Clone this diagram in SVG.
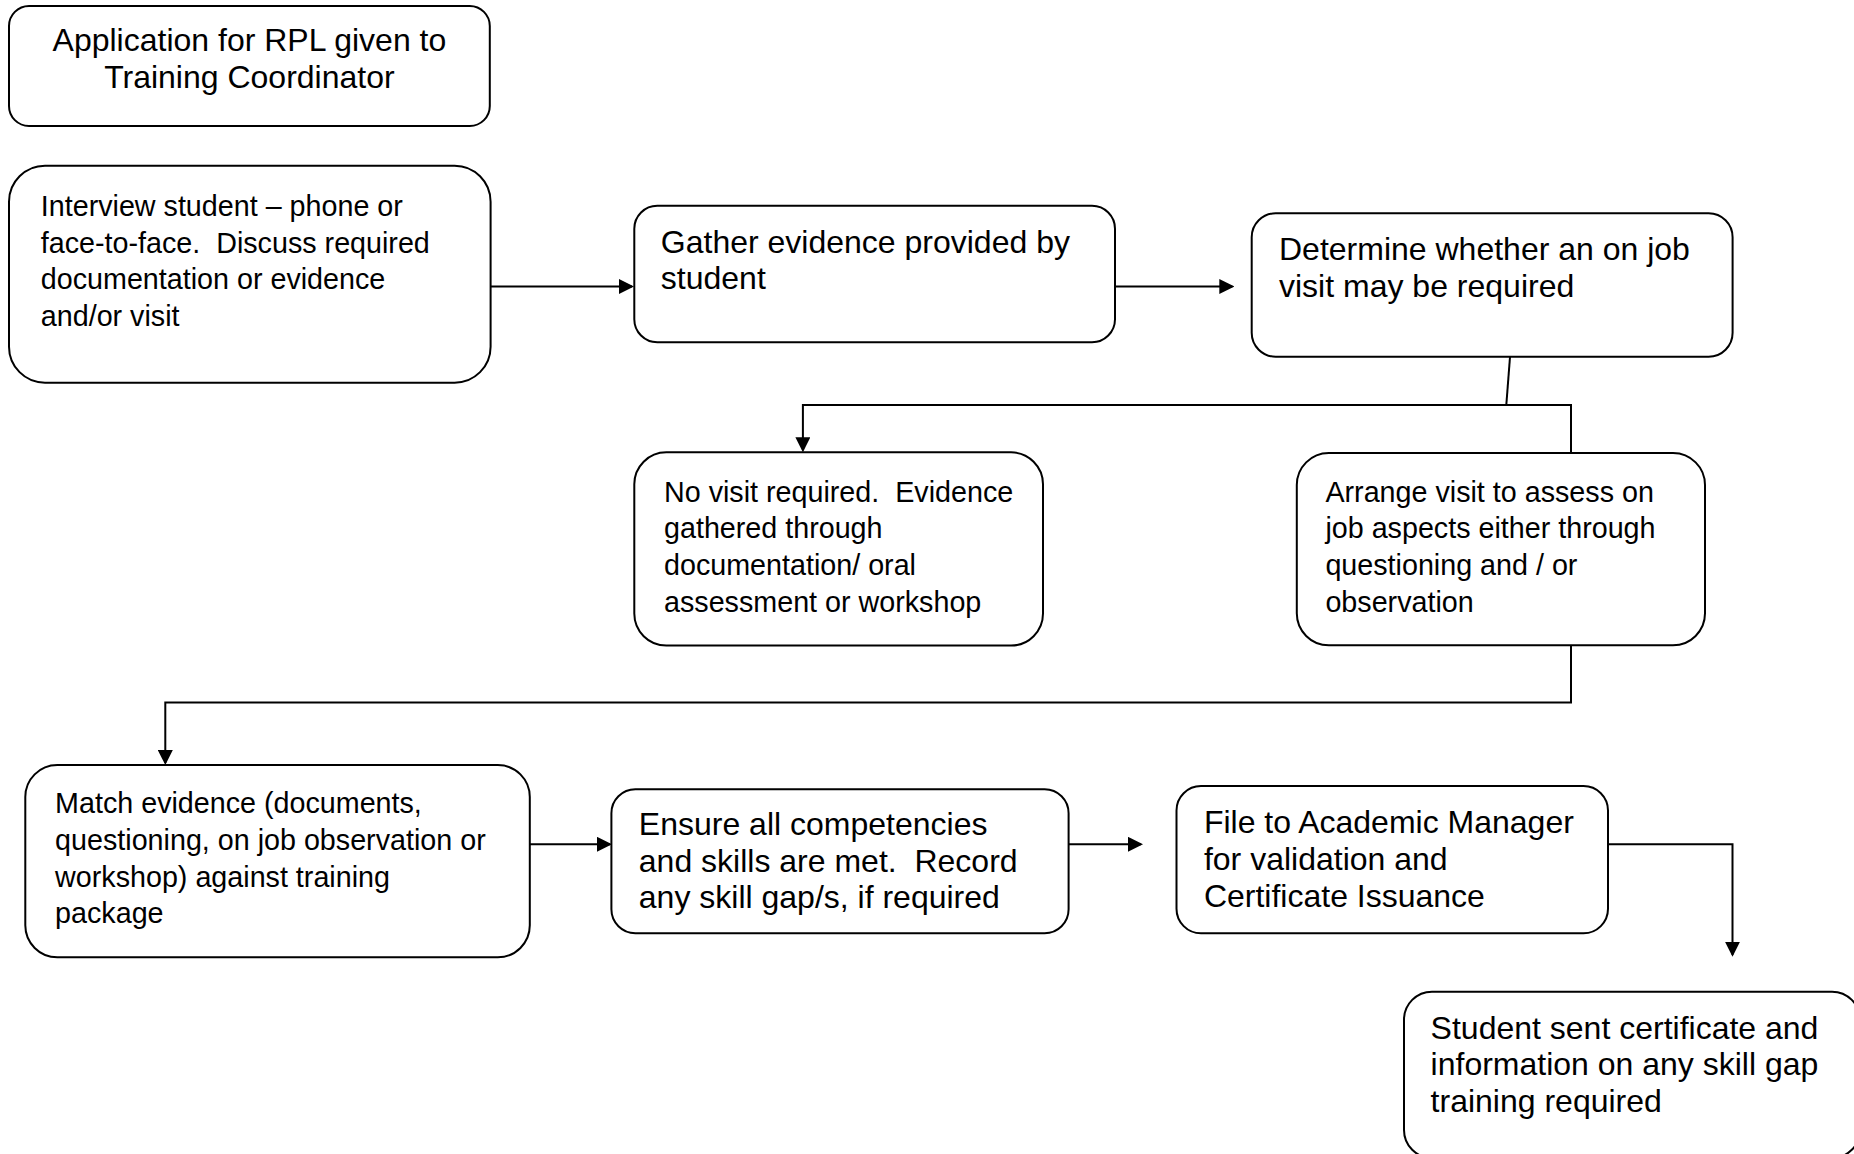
<svg xmlns="http://www.w3.org/2000/svg" width="1854" height="1154" viewBox="0 0 1854 1154" xml:space="preserve">
<style>
.box{fill:#fff;stroke:#000;stroke-width:2}
.t{font-family:"Liberation Sans",Arial,sans-serif;fill:#000;white-space:pre}
.w{font-size:32px}
.n{font-size:28.7px}
.c{fill:none;stroke:#000;stroke-width:2}
</style>
<defs>
<marker id="arr" markerUnits="userSpaceOnUse" markerWidth="15" markerHeight="15" viewBox="0 0 15 15" refX="13" refY="7.5" orient="auto">
<path d="M0,0 L15,7.5 L0,15 Z" fill="#000"/>
</marker>
</defs>
<rect width="1854" height="1154" fill="#fff"/>
<g id="connectors">
<path class="c" d="M490.6,286.5 H632" marker-end="url(#arr)"/>
<path class="c" d="M1115,286.5 H1232.3" marker-end="url(#arr)"/>
<path class="c" d="M1510,357 L1506.3,405"/>
<path class="c" d="M1571,453 V405 H802.9 V450.3" marker-end="url(#arr)"/>
<path class="c" d="M1571,645 V702.5 H165.3 V763" marker-end="url(#arr)"/>
<path class="c" d="M529.8,844.3 H610" marker-end="url(#arr)"/>
<path class="c" d="M1068.6,844.3 H1141" marker-end="url(#arr)"/>
<path class="c" d="M1608,844.3 H1732.5 V954.7" marker-end="url(#arr)"/>
</g>
<g id="n-application">
<rect class="box" x="9" y="6" width="480.8" height="120" rx="20" ry="20"/>
<text class="t w" x="249.4" y="50.7" text-anchor="middle">Application for RPL given to</text>
<text class="t w" x="249.4" y="87.7" text-anchor="middle">Training Coordinator</text>
</g>
<g id="n-interview">
<rect class="box" x="9" y="165.7" width="481.6" height="217" rx="36" ry="36"/>
<text class="t n" x="40.8" y="216">Interview student – phone or</text>
<text class="t n" x="40.8" y="252.5">face-to-face.  Discuss required</text>
<text class="t n" x="40.8" y="289">documentation or evidence</text>
<text class="t n" x="40.8" y="325.5">and/or visit</text>
</g>
<g id="n-gather">
<rect class="box" x="634.3" y="205.7" width="480.7" height="136.6" rx="23" ry="23"/>
<text class="t w" x="660.8" y="252.5">Gather evidence provided by</text>
<text class="t w" x="660.8" y="289">student</text>
</g>
<g id="n-determine">
<rect class="box" x="1251.7" y="213.3" width="480.9" height="143.4" rx="24" ry="24"/>
<text class="t w" x="1279" y="260">Determine whether an on job</text>
<text class="t w" x="1279" y="296.5">visit may be required</text>
</g>
<g id="n-novisit">
<rect class="box" x="634.3" y="452.3" width="408.7" height="193.3" rx="32" ry="32"/>
<text class="t n" x="664" y="501.7">No visit required.  Evidence</text>
<text class="t n" x="664" y="538.3">gathered through</text>
<text class="t n" x="664" y="575">documentation/ oral</text>
<text class="t n" x="664" y="611.7">assessment or workshop</text>
</g>
<g id="n-arrange">
<rect class="box" x="1296.8" y="453" width="408.2" height="192.3" rx="32" ry="32"/>
<text class="t n" x="1325.4" y="501.7">Arrange visit to assess on</text>
<text class="t n" x="1325.4" y="538.3">job aspects either through</text>
<text class="t n" x="1325.4" y="575">questioning and / or</text>
<text class="t n" x="1325.4" y="611.7">observation</text>
</g>
<g id="n-match">
<rect class="box" x="25.3" y="765" width="504.5" height="192.3" rx="32" ry="32"/>
<text class="t n" x="55.1" y="813.3">Match evidence (documents,</text>
<text class="t n" x="55.1" y="850">questioning, on job observation or</text>
<text class="t n" x="55.1" y="886.7">workshop) against training</text>
<text class="t n" x="55.1" y="923.3">package</text>
</g>
<g id="n-ensure">
<rect class="box" x="611.4" y="789.3" width="457.2" height="144" rx="24" ry="24"/>
<text class="t w" x="638.8" y="835">Ensure all competencies</text>
<text class="t w" x="638.8" y="871.7">and skills are met.  Record</text>
<text class="t w" x="638.8" y="908.3">any skill gap/s, if required</text>
</g>
<g id="n-file">
<rect class="box" x="1176.5" y="786" width="431.5" height="147.3" rx="24.5" ry="24.5"/>
<text class="t w" x="1203.9" y="833.3">File to Academic Manager</text>
<text class="t w" x="1203.9" y="870">for validation and</text>
<text class="t w" x="1203.9" y="906.7">Certificate Issuance</text>
</g>
<g id="n-student">
<rect class="box" x="1404" y="991.7" width="456" height="166.3" rx="28" ry="28"/>
<text class="t w" x="1430.6" y="1038.5">Student sent certificate and</text>
<text class="t w" x="1430.6" y="1075">information on any skill gap</text>
<text class="t w" x="1430.6" y="1111.5">training required</text>
</g>
</svg>
